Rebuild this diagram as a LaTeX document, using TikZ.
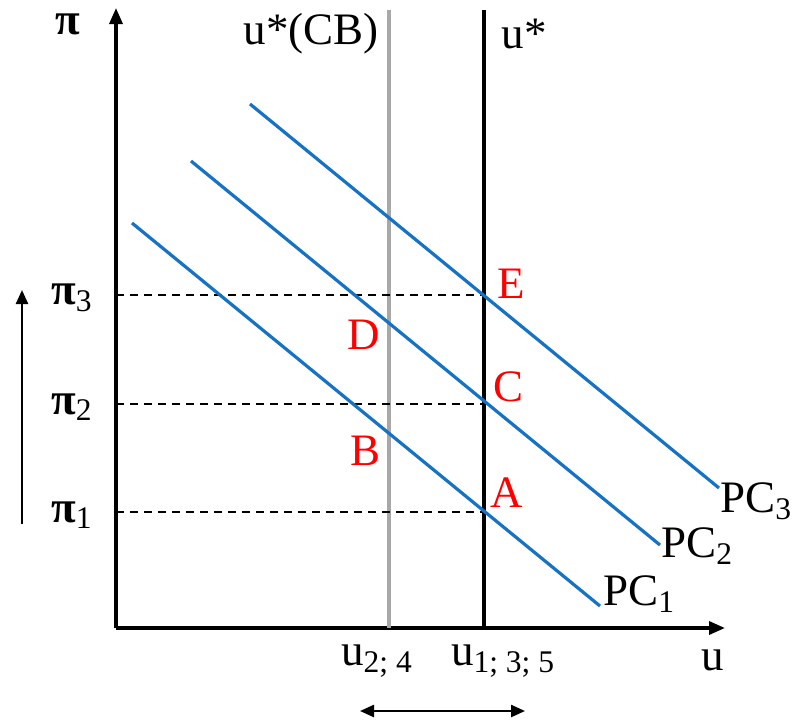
\documentclass[tikz,border=0pt]{standalone}
\usepackage{fontspec}
\setmainfont{Liberation Serif}
\usepackage{xcolor}
\usetikzlibrary{arrows.meta,positioning,calc}
\definecolor{pcblue}{RGB}{22,114,196}
\definecolor{cbgray}{RGB}{168,168,168}
\newcommand{\pig}{{\bfseries π}}
\tikzset{
  axis/.style={line width=1.7pt, -{Triangle[length=8pt, width=6.5pt]}},
  vline/.style={line width=1.7pt},
  pcline/.style={line width=1.6pt, draw=pcblue},
  guide/.style={line width=1pt, dash pattern=on 4pt off 3pt},
  lbl/.style={font=\fontsize{22.5}{27}\selectfont, inner sep=0pt},
  pnt/.style={lbl, text=red},
  move/.style={line width=1.2pt},
}

\begin{document}
\begin{tikzpicture}[x=0.5pt, y=-0.5pt]
  \useasboundingbox (0,0) rectangle (794,719);
  % axes
  \coordinate (O) at (116,628);
  \coordinate (ytop) at (116,8);
  \coordinate (xend) at (725,628);
  \draw[axis] (O) -- (ytop);
  \draw[axis] (O) -- (xend);
  \node[lbl] (pilbl) at (68,24) {\pig};
  \node[lbl] (ulbl) at (713,660) {u};
  % natural rates
  \coordinate (cbtop) at (389,10);
  \coordinate (cbbot) at (389,628);
  \coordinate (ustop) at (484,10);
  \coordinate (usbot) at (484,628);
  \draw[vline, draw=cbgray] (cbtop) -- (cbbot);
  \draw[vline] (ustop) -- (usbot);
  \node[lbl] (cblbl) at (311,34) {u*(CB)};
  \node[lbl] (uslbl) at (524,34) {u*};
  % inflation levels
  \coordinate (E) at (484,295);
  \coordinate (C) at (484,404);
  \coordinate (A) at (484,512);
  \draw[guide] (116,295) -- (E);
  \draw[guide] (116,404) -- (C);
  \draw[guide] (116,512) -- (A);
  \node[lbl] (pi3) at (72,298) {\pig\textsubscript{3}};
  \node[lbl] (pi2) at (72,407) {\pig\textsubscript{2}};
  \node[lbl] (pi1) at (72,515) {\pig\textsubscript{1}};
  \coordinate (upbot) at (22,524);
  \coordinate (uptop) at (22,290);
  \draw[move, -{Triangle[length=7pt, width=6pt]}] (upbot) -- (uptop);
  % Phillips curves
  \coordinate (pc1s) at (132,223);
  \coordinate (pc1e) at (600,606);
  \coordinate (pc2s) at (191,161);
  \coordinate (pc2e) at (660,545);
  \coordinate (pc3s) at (250,104);
  \coordinate (pc3e) at (719,488);
  \draw[pcline] (pc1s) -- (pc1e);
  \draw[pcline] (pc2s) -- (pc2e);
  \draw[pcline] (pc3s) -- (pc3e);
  \node[lbl, anchor=west] (pc1) at (603,594) {PC\textsubscript{1}};
  \node[lbl, anchor=west] (pc2) at (661,546) {PC\textsubscript{2}};
  \node[lbl, anchor=west] (pc3) at (720,501) {PC\textsubscript{3}};
  % points
  \node[pnt] (ptE) at (511,284) {E};
  \node[pnt] (ptD) at (364,335) {D};
  \node[pnt] (ptC) at (509,387) {C};
  \node[pnt] (ptB) at (366,451) {B};
  \node[pnt] (ptA) at (507,493) {A};
  % unemployment
  \node[lbl] (u24) at (377,661) {u\textsubscript{2; 4}};
  \node[lbl] (u135) at (503,661) {u\textsubscript{1; 3; 5}};
  \coordinate (gapl) at (360,711);
  \coordinate (gapr) at (525,711);
  \draw[move, {Triangle[length=7pt, width=6pt]}-{Triangle[length=7pt, width=6pt]}] (gapl) -- (gapr);
\end{tikzpicture}
\end{document}
